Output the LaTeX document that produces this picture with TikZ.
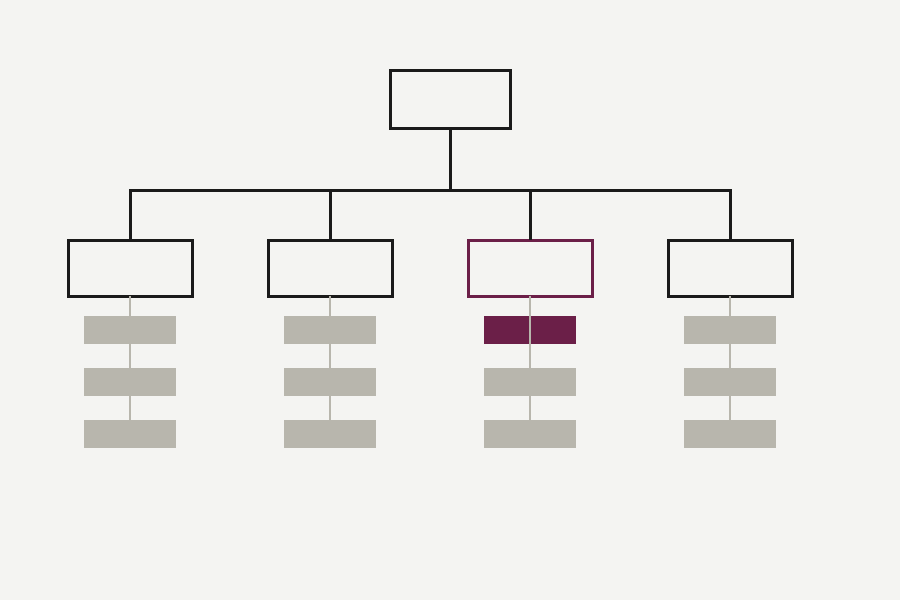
\documentclass[tikz,border=0pt]{standalone}
\usepackage{tikz}
\usetikzlibrary{positioning}

\definecolor{bgcol}{HTML}{F4F4F2}
\definecolor{inkcol}{HTML}{1A1A1A}
\definecolor{plum}{HTML}{6B1F48}
\definecolor{stone}{HTML}{B8B6AD}

\begin{document}
\begin{tikzpicture}[
		x=1pt, y=-1pt,
		box/.style={draw=inkcol, line width=3pt, fill=bgcol, inner sep=0pt, outer sep=0pt},
		unit/.style={box, minimum width=124pt, minimum height=56pt},
		sub/.style={fill=stone, draw=none, inner sep=0pt, outer sep=0pt, minimum width=92pt, minimum height=28pt},
		bus/.style={draw=inkcol, line width=3pt},
		link/.style={draw=stone, line width=1.8pt}
	]
	\fill[bgcol] (0,0) rectangle (900,600);
	\useasboundingbox (0,0) rectangle (900,600);

	\node[box, minimum width=120pt, minimum height=58pt] (top) at (450,99) {};
	\coordinate (hub) at (450,190);

	\node[unit] (u1) at (130,268) {};
	\node[unit] (u2) at (330,268) {};
	\node[unit, draw=plum] (u3) at (530,268) {};
	\node[unit] (u4) at (730,268) {};

	\draw[bus] (top) -- (hub);
	\foreach \u in {u1,u2,u3,u4}
		\draw[bus] (\u.north) |- (hub);

	% sub items under each unit
	\foreach \u in {1,2,3,4} {
		\node[sub, below=20pt of u\u] (s\u a) {};
		\node[sub, below=24pt of s\u a] (s\u b) {};
		\node[sub, below=24pt of s\u b] (s\u c) {};
	}
	\node[sub, fill=plum] at (s3a) {};

	\foreach \u in {1,2,3,4}
		\draw[link] (u\u.south) -- (s\u c.north);
\end{tikzpicture}
\end{document}
